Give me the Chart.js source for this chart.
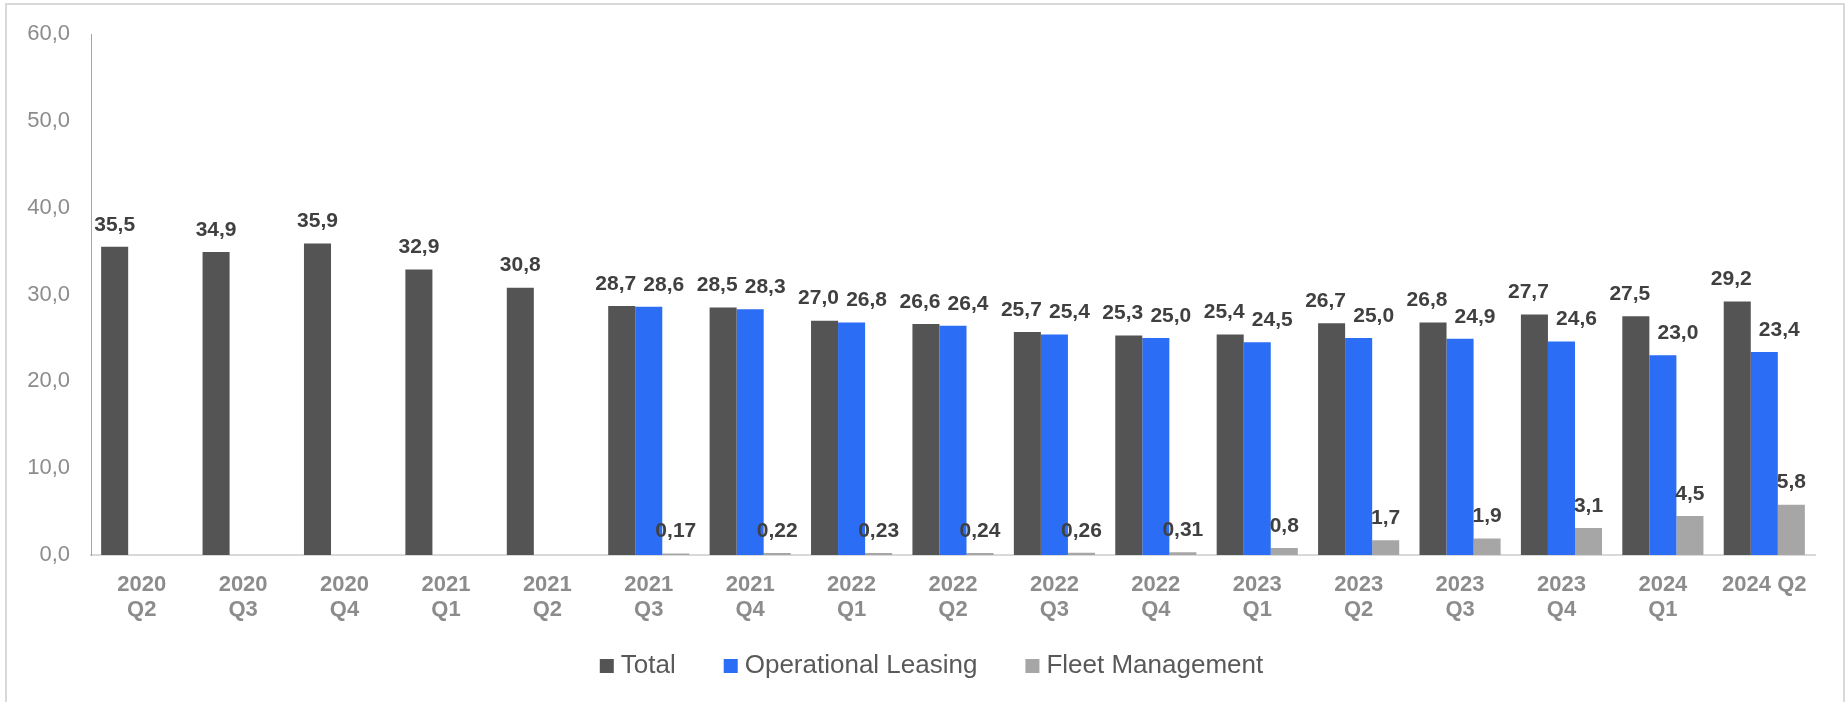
<!DOCTYPE html>
<html>
<head>
<meta charset="utf-8">
<script src="https://cdn.jsdelivr.net/npm/chart.js@4.4.1/dist/chart.umd.min.js"></script>
<style>
html,body{margin:0;padding:0;background:#ffffff;}
canvas{display:block;}
</style>
</head>
<body>
<canvas id="c" width="1845" height="702"></canvas>
<script>
const categories = ["2020 Q2","2020 Q3","2020 Q4","2021 Q1","2021 Q2","2021 Q3","2021 Q4","2022 Q1","2022 Q2","2022 Q3","2022 Q4","2023 Q1","2023 Q2","2023 Q3","2023 Q4","2024 Q1","2024 Q2"];
const totalValues   = [35.5, 34.9, 35.9, 32.9, 30.8, 28.7, 28.5, 27.0, 26.6, 25.7, 25.3, 25.4, 26.7, 26.8, 27.7, 27.5, 29.2];
const leasingValues = [null, null, null, null, null, 28.6, 28.3, 26.8, 26.4, 25.4, 25.0, 24.5, 25.0, 24.9, 24.6, 23.0, 23.4];
const fleetValues   = [null, null, null, null, null, 0.17, 0.22, 0.23, 0.24, 0.26, 0.31, 0.8, 1.7, 1.9, 3.1, 4.5, 5.8];
const seriesNames = ["Total", "Operational Leasing", "Fleet Management"];
const yMin = 0, yMax = 60, yStep = 10;

const FONT = "'Liberation Sans', Arial, Helvetica, sans-serif";
const colors = ["#545454", "#2b6df4", "#a6a6a6"];

function fmt(v) {
  const d = v < 0.5 ? 2 : 1;
  return v.toFixed(d).replace('.', ',');
}

const framePlugin = {
  id: 'frame',
  beforeDraw(chart) {
    const ctx = chart.ctx;
    ctx.save();
    ctx.fillStyle = '#ffffff';
    ctx.fillRect(0, 0, chart.width, chart.height);
    ctx.strokeStyle = '#d9d9d9';
    ctx.lineWidth = 2;
    ctx.strokeRect(6, 4, chart.width - 7, chart.height + 20);
    ctx.restore();
  }
};

const valueLabels = {
  id: 'valueLabels',
  afterDatasetsDraw(chart) {
    const ctx = chart.ctx;
    ctx.save();
    ctx.font = "bold 21px " + FONT;
    ctx.fillStyle = '#404040';
    ctx.textAlign = 'center';
    ctx.textBaseline = 'middle';
    const dsets = chart.data.datasets;
    dsets.forEach((ds, di) => {
      const meta = chart.getDatasetMeta(di);
      meta.data.forEach((bar, j) => {
        const v = ds.data[j];
        if (v === null || v === undefined) return;
        const both = dsets[0].data[j] != null && dsets[1].data[j] != null;
        let dx = 0;
        if (both && di === 0) dx = -6;
        if (both && di === 1) dx = 15;
        ctx.fillText(fmt(v), bar.x + dx, bar.y - 22);
      });
    });
    ctx.restore();
  }
};

const customLegend = {
  id: 'customLegend',
  afterDraw(chart) {
    const ctx = chart.ctx;
    ctx.save();
    ctx.font = "26px " + FONT;
    ctx.textBaseline = 'middle';
    ctx.textAlign = 'left';
    const box = 14, gapText = 7, gapItem = 48;
    const items = chart.data.datasets.map(d => ({ text: d.label, color: d.backgroundColor, w: ctx.measureText(d.label).width }));
    let total = 0;
    items.forEach((it, i) => { total += box + gapText + it.w + (i ? gapItem : 0); });
    const cx = chart.width / 2 + 9;
    const cy = 666;
    let x = cx - total / 2;
    items.forEach((it) => {
      ctx.fillStyle = it.color;
      ctx.fillRect(x, cy - box / 2, box, box);
      ctx.fillStyle = '#595959';
      ctx.fillText(it.text, x + box + gapText, cy);
      x += box + gapText + it.w + gapItem;
    });
    ctx.restore();
  }
};

new Chart(document.getElementById('c'), {
  type: 'bar',
  data: {
    labels: categories,
    datasets: [
      { label: seriesNames[0], data: totalValues, backgroundColor: colors[0] },
      { label: seriesNames[1], data: leasingValues, backgroundColor: colors[1] },
      { label: seriesNames[2], data: fleetValues, backgroundColor: colors[2] }
    ]
  },
  options: {
    responsive: false,
    animation: false,
    devicePixelRatio: 1,
    categoryPercentage: 0.8,
    barPercentage: 1.0,
    layout: { padding: { top: 33, right: 30, left: 0, bottom: 0 } },
    plugins: {
      legend: { display: false },
      tooltip: { enabled: false }
    },
    scales: {
      x: {
        grid: { display: false, drawTicks: false },
        border: { display: true, color: '#d9d9d9', width: 2 },
        ticks: {
          padding: 17,
          color: '#8c8c8c',
          font: { family: FONT, size: 22, weight: 'bold', lineHeight: 1.16 },
          maxRotation: 0,
          autoSkip: false,
          callback: function (val, idx) {
            const lab = this.getLabelForValue(val);
            return idx === categories.length - 1 ? lab : lab.split(' ');
          }
        },
        afterFit: (s) => { s.height = 147; }
      },
      y: {
        min: yMin,
        max: yMax,
        grid: { display: false, drawTicks: false },
        border: { display: true, color: '#a6a6a6', width: 1 },
        ticks: {
          stepSize: yStep,
          padding: 21,
          color: '#8c8c8c',
          font: { family: FONT, size: 22 },
          callback: (v) => Number(v).toFixed(1).replace('.', ',')
        },
        afterFit: (s) => { s.width = 91; }
      }
    }
  },
  plugins: [framePlugin, valueLabels, customLegend]
});
</script>
</body>
</html>
